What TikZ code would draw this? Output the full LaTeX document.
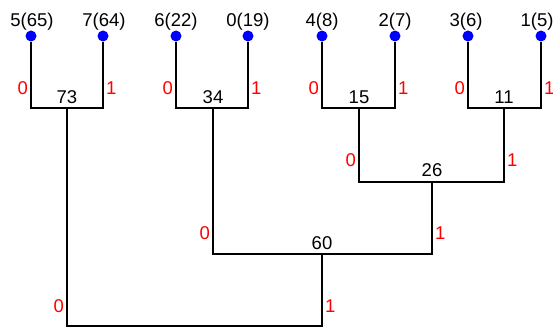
\documentclass[tikz,border=0pt]{standalone}
\usepackage{fontspec}
\setmainfont{Liberation Sans}
\begin{document}
\begin{tikzpicture}[x=1pt,y=-1pt,
  leaf/.style={circle, fill=blue, inner sep=0pt, minimum size=11pt},
  wire/.style={line width=2.3pt, black},
  weight/.style={font=\fontsize{18.5}{22}\selectfont, inner sep=0pt, anchor=base},
  zero/.style={font=\fontsize{18.5}{22}\selectfont, text=red, inner sep=0pt, anchor=base east},
  one/.style={font=\fontsize{18.5}{22}\selectfont, text=red, inner sep=0pt, anchor=base west}]
\useasboundingbox (0,0) rectangle (553,329);

% leaf symbols with their frequencies
\foreach \name/\x/\tx/\txt in {l5/31/32/5(65), l7/103/104/7(64), l6/176/176/6(22), l0/248/248/0(19),
                               l4/322/322/4(8), l2/395/395/2(7), l3/468/466/3(6), l1/541/537/1(5)} {
  \node[leaf] (\name) at (\x,36) {};
  \node[weight] (t\name) at (\tx,26.5) {\txt};
}

% internal nodes (centre of each joining bar)
\coordinate (n73) at (67,108);
\coordinate (n34) at (213,108);
\coordinate (n15) at (359,108);
\coordinate (n11) at (504,108);
\coordinate (n26) at (432,182);
\coordinate (n60) at (322,254);
\coordinate (root) at (194.5,326);

% tree branches
\draw[wire] (l5.south) |- (n73) -| (l7.south);
\draw[wire] (l6.south) |- (n34) -| (l0.south);
\draw[wire] (l4.south) |- (n15) -| (l2.south);
\draw[wire] (l3.south) |- (n11) -| (l1.south);
\draw[wire] (n15) |- (n26) -| (n11);
\draw[wire] (n34) |- (n60) -| (n26);
\draw[wire] (n73) |- (root) -| (n60);

% weights of the merged nodes
\node[weight] (w73) at (67,103) {73};
\node[weight] (w34) at (213,103) {34};
\node[weight] (w15) at (359,103) {15};
\node[weight] (w11) at (504,103) {11};
\node[weight] (w26) at (432,176.5) {26};
\node[weight] (w60) at (322,249) {60};

% branch bits
\foreach \xl/\xr/\yb in {31/103/94.5, 176/248/94.5, 322/395/94.5, 468/541/94.5,
                          359/504/166.5, 213/432/239.5, 67/322/312.5} {
  \node[zero] at (\xl-3,\yb) {0};
  \node[one] at (\xr+3,\yb) {1};
}
\end{tikzpicture}
\end{document}
